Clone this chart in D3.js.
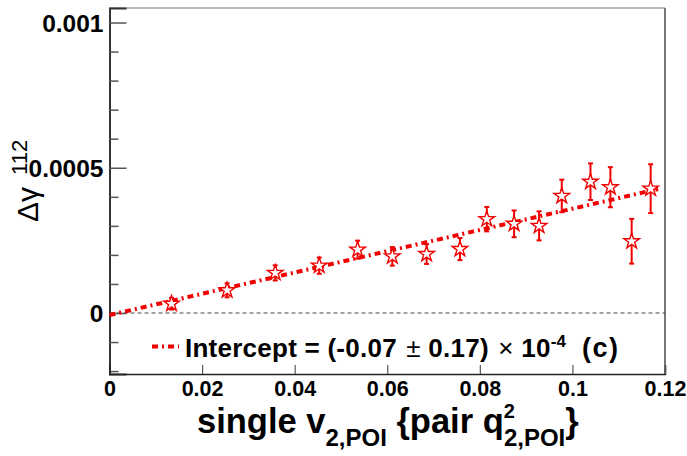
<!DOCTYPE html>
<html>
<head>
<meta charset="utf-8">
<script src="https://cdn.jsdelivr.net/npm/d3@7"></script>
<style>
  html, body { margin: 0; padding: 0; background: #fff; }
  svg { display: block; font-family: "Liberation Sans", Arial, sans-serif; }
</style>
</head>
<body>
<svg id="chart" width="687" height="456"></svg>
<script>
// Δγ112 versus single v2,POI {pair q2,POI}
const v2Values    = [0.0134, 0.0254, 0.0358, 0.0453, 0.0536, 0.0611, 0.0685, 0.0757,
                     0.0815, 0.0874, 0.0928, 0.0977, 0.1039, 0.1082, 0.1128, 0.1169];
const gammaValues = [0.000032, 0.000078, 0.000138, 0.000163, 0.000218, 0.000195, 0.000203, 0.000220,
                     0.000323, 0.000307, 0.000300, 0.000403, 0.000452, 0.000433, 0.000247, 0.000428];
const gammaErrors = [0.000020, 0.000024, 0.000026, 0.000028, 0.000031, 0.000032, 0.000034, 0.000038,
                     0.000042, 0.000046, 0.000050, 0.000056, 0.000063, 0.000069, 0.000077, 0.000084];

// linear fit: intercept (-0.07 ± 0.17) × 10^-4
const fitIntercept = -0.000007;
const fitSlope = 0.00366;
const fitRange = [0, 0.1185];

const xTicks = [0, 0.02, 0.04, 0.06, 0.08, 0.1, 0.12];
const xTickLabels = ["0", "0.02", "0.04", "0.06", "0.08", "0.1", "0.12"];
const yMajorTicks = [0, 0.0005, 0.001];
const yTickLabels = ["0", "0.0005", "0.001"];
const yMinorTicks = [-0.0002, -0.0001, 0.0001, 0.0002, 0.0003, 0.0004, 0.0006, 0.0007, 0.0008, 0.0009];

const RED = "#f00000";
const FONT = "Liberation Sans, Arial, sans-serif";
const svg = d3.select("#chart");

const x = d3.scaleLinear().domain([0, 0.12]).range([109.5, 665]);
const y = d3.scaleLinear().domain([-0.00021, 0.00105]).range([374, 8]);

// frame
const [x0, x1] = x.range();
const [yb, yt] = y.range();
svg.append("line").attr("x1", x0).attr("x2", x1).attr("y1", yt).attr("y2", yt)
  .attr("stroke", "#777").attr("stroke-width", 1.2);
svg.append("line").attr("x1", x1).attr("x2", x1).attr("y1", yt).attr("y2", yb)
  .attr("stroke", "#777").attr("stroke-width", 2);

// zero reference line
svg.append("line").attr("x1", x0).attr("x2", x1).attr("y1", y(0)).attr("y2", y(0))
  .attr("stroke", "#444").attr("stroke-width", 1).attr("stroke-dasharray", "4,3");

// y axis
const yAxis = d3.axisLeft(y).tickValues(yMajorTicks).tickSize(-17)
  .tickFormat((d, i) => yTickLabels[i]).tickPadding(8);
const gy = svg.append("g").attr("transform", `translate(${x0},0)`).call(yAxis)
  .attr("font-size", null).attr("font-family", null);
gy.select(".domain").attr("stroke", "#333").attr("stroke-width", 2);
gy.selectAll(".tick line").attr("stroke", "#555").attr("stroke-width", 1.5);
gy.selectAll(".tick text").attr("x", -6).attr("dy", "0.36em")
  .style("font-size", "24.5px").style("font-weight", "bold").style("font-family", FONT).attr("fill", "#000");
const yMinor = d3.axisLeft(y).tickValues(yMinorTicks).tickSize(-9).tickFormat("");
const gym = svg.append("g").attr("transform", `translate(${x0},0)`).call(yMinor);
gym.select(".domain").remove();
gym.selectAll(".tick line").attr("stroke", "#555").attr("stroke-width", 1.5);

// x axis
const xAxis = d3.axisBottom(x).tickValues(xTicks).tickSize(-9)
  .tickFormat((d, i) => xTickLabels[i]).tickPadding(0);
const gx = svg.append("g").attr("transform", `translate(0,${yb})`).call(xAxis)
  .attr("font-size", null).attr("font-family", null);
gx.select(".domain").attr("stroke", "#222").attr("stroke-width", 1.5);
gx.selectAll(".tick line").attr("stroke", "#555").attr("stroke-width", 1.2);
gx.selectAll(".tick text").attr("y", 22).attr("dy", 0)
  .style("font-size", "21.5px").style("font-weight", "bold").style("font-family", FONT).attr("fill", "#000");
gx.selectAll(".tick").filter(d => d === 0).select("line").remove();

// fit line
svg.append("line")
  .attr("x1", x(fitRange[0])).attr("y1", y(fitIntercept + fitSlope * fitRange[0]))
  .attr("x2", x(fitRange[1])).attr("y2", y(fitIntercept + fitSlope * fitRange[1]))
  .attr("stroke", RED).attr("stroke-width", 4).attr("stroke-dasharray", "6,4,2,4");

// data points with error bars
const pts = v2Values.map((v, i) => ({ x: v, y: gammaValues[i], e: gammaErrors[i] }));
const g = svg.append("g").selectAll("g").data(pts).join("g")
  .attr("transform", d => `translate(${x(d.x)},${y(d.y)})`);
g.append("line").attr("x1", 0).attr("x2", 0)
  .attr("y1", d => y(d.y + d.e) - y(d.y)).attr("y2", d => y(d.y - d.e) - y(d.y))
  .attr("stroke", RED).attr("stroke-width", 2);
g.append("line").attr("x1", -2.5).attr("x2", 2.5)
  .attr("y1", d => y(d.y + d.e) - y(d.y)).attr("y2", d => y(d.y + d.e) - y(d.y))
  .attr("stroke", RED).attr("stroke-width", 2);
g.append("line").attr("x1", -2.5).attr("x2", 2.5)
  .attr("y1", d => y(d.y - d.e) - y(d.y)).attr("y2", d => y(d.y - d.e) - y(d.y))
  .attr("stroke", RED).attr("stroke-width", 2);
g.append("path").attr("d", d3.symbol(d3.symbolStar, 75))
  .attr("fill", "#fff").attr("stroke", RED).attr("stroke-width", 1.4);

// legend
svg.append("line").attr("x1", 152).attr("x2", 179).attr("y1", 346.5).attr("y2", 346.5)
  .attr("stroke", RED).attr("stroke-width", 4).attr("stroke-dasharray", "6,4,2,4");
const leg = svg.append("text").attr("x", 185).attr("y", 357)
  .style("font-size", "26px").style("font-weight", "bold").style("font-family", FONT)
  .style("letter-spacing", "0.25px").attr("fill", "#000");
leg.append("tspan").text("Intercept = (-0.07 ");
leg.append("tspan").attr("dx", 2).style("font-weight", "normal").text("±");
leg.append("tspan").text(" 0.17) ");
leg.append("tspan").attr("dx", 2).style("font-weight", "normal").text("×");
leg.append("tspan").text(" 10");
leg.append("tspan").style("font-size", "17px").attr("dy", -10).text("-4");
svg.append("text").attr("x", 582).attr("y", 357)
  .style("font-size", "27px").style("font-weight", "bold").style("font-family", FONT)
  .style("letter-spacing", "1.5px").attr("fill", "#000").text("(c)");

// x axis title
const xt = svg.append("text").attr("x", 197).attr("y", 433)
  .style("font-size", "34.5px").style("font-weight", "bold").style("font-family", FONT).attr("fill", "#000");
xt.append("tspan").text("single v");
xt.append("tspan").style("font-size", "24px").attr("dy", 13).text("2,POI");
xt.append("tspan").attr("dy", -13).text(" {pair q");
xt.append("tspan").style("font-size", "20px").attr("dy", -15).text("2");
xt.append("tspan").style("font-size", "24px").attr("dx", -11).attr("dy", 28).text("2,POI");
xt.append("tspan").attr("dy", -13).text("}");

// y axis title
const yTitle = svg.append("text").attr("transform", "translate(38,222) rotate(-90)")
  .style("font-size", "30px").style("font-family", FONT).attr("fill", "#000");
yTitle.append("tspan").text("Δγ");
yTitle.append("tspan").style("font-size", "22px").attr("dy", -11).attr("dx", 12).text("112");
</script>
</body>
</html>
